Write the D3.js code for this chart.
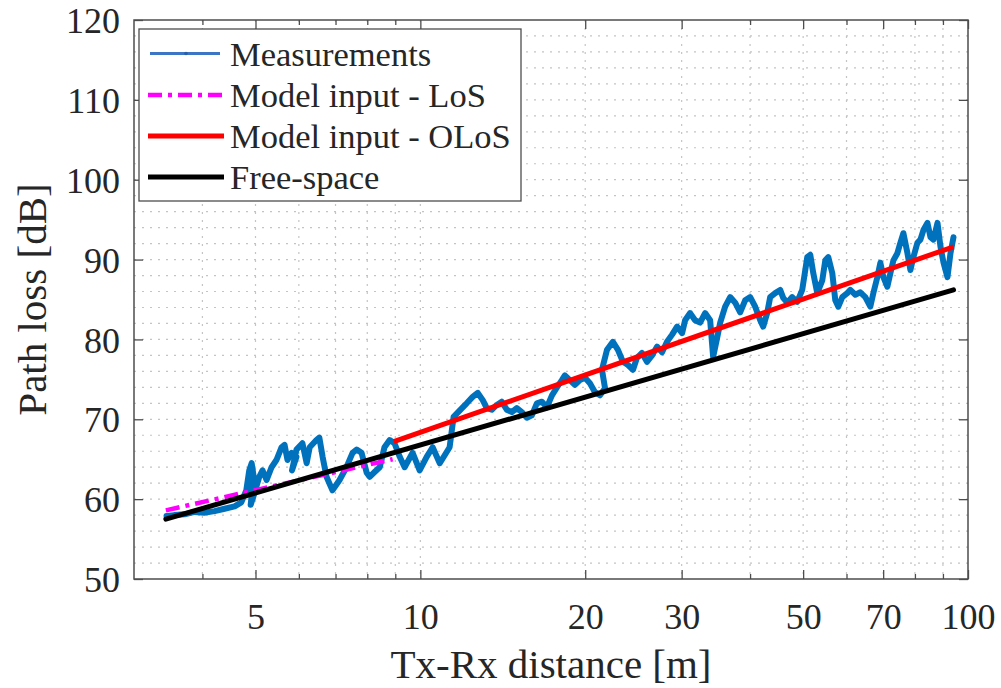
<!DOCTYPE html>
<html><head><meta charset="utf-8">
<script src="https://cdn.jsdelivr.net/npm/d3@7"></script>
<style>
html,body{margin:0;padding:0;background:#fff;}
text{font-family:"Liberation Serif","Times New Roman",serif;fill:#262626;}
</style></head>
<body>
<svg id="chart" width="1001" height="688"></svg>
<script>
// ---- data ----
const measDist = [3.44,3.55,3.71,3.87,4.03,4.21,4.39,4.58,4.71,4.81,4.87,4.92,4.96,4.90,4.98,5.08,5.15,5.24,5.35,5.46,5.58,5.65,5.72,5.82,5.94,5.83,5.94,6.09,6.20,6.28,6.46,6.54,6.63,6.74,6.91,7.12,7.33,7.52,7.65,7.81,7.98,8.08,8.25,8.43,8.60,8.79,8.97,9.17,9.36,9.68,9.97,10.27,10.53,10.85,11.31,11.50,11.95,12.15,12.46,12.73,13.00,13.22,13.50,13.79,14.08,14.38,14.69,15.00,15.32,15.65,15.98,16.32,16.67,17.02,17.39,17.76,18.13,18.36,18.75,19.15,19.56,19.98,20.40,20.84,21.28,21.74,21.46,21.92,22.47,22.95,23.44,23.94,24.45,24.86,25.39,25.93,26.49,27.05,27.63,28.21,28.82,29.43,30.06,30.44,31.09,31.74,32.42,33.11,33.82,34.25,34.83,35.28,36.02,36.79,37.57,38.37,39.18,40.02,40.87,41.74,42.27,42.98,43.53,44.46,45.40,45.98,46.76,47.75,48.77,49.81,50.87,51.52,52.18,53.06,54.19,54.88,55.58,56.52,57.24,57.97,58.95,60.20,60.97,62.27,63.59,64.94,66.32,67.17,68.31,69.18,70.06,71.25,72.16,73.08,74.32,75.25,76.21,77.52,78.49,79.49,80.84,81.87,82.91,84.32,85.40,86.48,87.96,89.08,90.22,91.73,92.90,94.08];
const measPL = [57.9,58.0,58.1,58.4,58.3,58.5,58.8,59.1,59.6,61.1,63.6,64.5,62.9,59.3,60.8,62.8,63.6,62.4,64.0,64.9,66.5,66.8,64.9,65.8,65.3,63.6,66.2,67.0,64.5,66.5,67.4,67.7,65.3,62.8,61.1,62.4,64.0,65.8,66.2,65.8,63.3,62.8,63.4,64.0,66.5,67.4,67.0,65.3,64.0,65.8,63.6,65.3,66.5,64.5,66.5,70.3,71.5,72.0,72.8,73.3,72.4,71.4,71.2,71.8,72.2,71.2,70.9,71.4,70.9,70.2,70.5,72.0,72.2,71.5,73.0,74.0,74.9,75.5,74.9,74.3,74.9,75.2,74.5,73.4,73.0,73.9,76.2,78.7,79.7,78.7,77.2,76.8,76.2,77.7,78.3,77.2,78.0,79.1,78.4,79.7,80.6,81.6,80.8,82.4,83.3,82.4,82.1,83.3,82.4,77.8,80.2,82.1,84.1,85.3,84.6,83.4,84.9,85.3,84.1,82.4,81.6,83.3,85.3,85.8,86.2,85.2,84.6,85.3,84.7,86.2,90.3,90.6,88.3,85.8,87.4,89.9,90.3,88.3,84.9,84.1,85.3,85.8,86.2,85.6,85.9,85.3,84.1,85.8,87.8,89.6,87.8,86.6,88.3,89.9,90.8,92.1,93.3,90.8,88.7,90.3,92.1,92.5,93.7,94.6,92.8,92.5,94.6,91.6,89.6,87.8,90.8,92.8];
const losDist = [3.43, 8.9];
const losPL = [58.6, 65.0];
const olosDist = [8.94, 94.1];
const olosPL = [67.2, 91.6];
const freeDist = [3.43, 94.1];
const freePL = [57.5, 86.2];
const xTickValues = [5, 10, 20, 30, 50, 70, 100];
const xMinorValues = [4, 6, 7, 8, 9, 40, 60, 80, 90];
const yTickValues = [50, 60, 70, 80, 90, 100, 110, 120];
const legendLabels = ["Measurements", "Model input - LoS", "Model input - OLoS", "Free-space"];
const xLabel = "Tx-Rx distance [m]";
const yLabel = "Path loss [dB]";

// ---- layout ----
const L = 134, R = 968, T = 20, B = 579;
const svg = d3.select("#chart");
const x = d3.scaleLog().domain([3, 100]).range([L, R]);
const y = d3.scaleLinear().domain([50, 120]).range([B, T]);

svg.append("defs").append("clipPath").attr("id", "clip")
  .append("rect").attr("x", L).attr("y", T).attr("width", R - L).attr("height", B - T);

// grid
const grid = svg.append("g");
const gridX = xMinorValues.concat(xTickValues.filter(v => v < 100));
grid.selectAll(".gx").data(gridX).enter().append("line")
  .attr("x1", d => x(d)).attr("x2", d => x(d)).attr("y1", T).attr("y2", B)
  .attr("stroke", "#c4c4c4").attr("stroke-width", 1.2).attr("stroke-dasharray", "2,6");
grid.selectAll(".gy").data(d3.range(52, 120, 2)).enter().append("line")
  .attr("x1", L).attr("x2", R).attr("y1", d => y(d)).attr("y2", d => y(d))
  .attr("stroke", "#c4c4c4").attr("stroke-width", 1.2).attr("stroke-dasharray", "2,6");

// lines
const plot = svg.append("g").attr("clip-path", "url(#clip)");
const line = d3.line().x(d => x(d[0])).y(d => y(d[1]));
const zip = (a, b) => a.map((v, i) => [v, b[i]]);
plot.append("path").datum(zip(measDist, measPL)).attr("d", line)
  .attr("fill", "none").attr("stroke", "#0072BD").attr("stroke-width", 6)
  .attr("stroke-linejoin", "round").attr("stroke-linecap", "round");
plot.append("path").datum(zip(losDist, losPL)).attr("d", line)
  .attr("fill", "none").attr("stroke", "#FF00FF").attr("stroke-width", 4.5)
  .attr("stroke-dasharray", "14,6,4,6");
plot.append("path").datum(zip(olosDist, olosPL)).attr("d", line)
  .attr("fill", "none").attr("stroke", "#FF0000").attr("stroke-width", 5);
plot.append("path").datum(zip(freeDist, freePL)).attr("d", line)
  .attr("fill", "none").attr("stroke", "#000000").attr("stroke-width", 5)
  .attr("stroke-linecap", "round");

// axes
const axColor = "#4d4d4d";
function styleAxis(g) {
  g.select(".domain").remove();
  g.selectAll(".tick line").attr("stroke", axColor).attr("stroke-width", 1.3);
}
const fmt = d => String(d);
svg.append("g").attr("transform", `translate(0,${B})`)
  .call(d3.axisBottom(x).tickValues(xTickValues).tickFormat(fmt).tickSize(-9))
  .call(styleAxis)
  .call(g => g.selectAll("text").attr("y", 50).attr("dy", null)
    .style("font-size", "36px").style("font-family", "Liberation Serif").attr("fill", "#262626"));
svg.append("g").attr("transform", `translate(0,${B})`)
  .call(d3.axisBottom(x).tickValues(xMinorValues).tickFormat("").tickSize(-5)).call(styleAxis);
svg.append("g").attr("transform", `translate(0,${T})`)
  .call(d3.axisTop(x).tickValues(xTickValues).tickFormat("").tickSize(-9)).call(styleAxis);
svg.append("g").attr("transform", `translate(0,${T})`)
  .call(d3.axisTop(x).tickValues(xMinorValues).tickFormat("").tickSize(-5)).call(styleAxis);
svg.append("g").attr("transform", `translate(${L},0)`)
  .call(d3.axisLeft(y).tickValues(yTickValues).tickFormat(fmt).tickSize(-9).tickPadding(14))
  .call(styleAxis)
  .call(g => g.selectAll("text").attr("x", -14).attr("dy", "0.35em")
    .style("font-size", "36px").style("font-family", "Liberation Serif").attr("fill", "#262626"));
svg.append("g").attr("transform", `translate(${R},0)`)
  .call(d3.axisRight(y).tickValues(yTickValues).tickFormat("").tickSize(-9)).call(styleAxis);

// frame
svg.append("rect").attr("x", L).attr("y", T).attr("width", R - L).attr("height", B - T)
  .attr("fill", "none").attr("stroke", axColor).attr("stroke-width", 1.5);

// axis labels
svg.append("text").attr("x", (L + R) / 2).attr("y", 678).attr("text-anchor", "middle")
  .style("font-size", "41px").text(xLabel);
svg.append("text").attr("transform", `translate(46,${(T + B) / 2}) rotate(-90)`)
  .attr("text-anchor", "middle").style("font-size", "41px").text(yLabel);

// legend
const lg = svg.append("g");
lg.append("rect").attr("x", 139).attr("y", 29).attr("width", 382).attr("height", 172)
  .attr("fill", "#fff").attr("stroke", axColor).attr("stroke-width", 1.3);
const legStyles = [
  {color: "#3b75c4", w: 3, dash: null, x1: 150, x2: 220},
  {color: "#FF00FF", w: 4.5, dash: "14,6,4,6", x1: 148, x2: 224},
  {color: "#FF0000", w: 5, dash: null, x1: 148, x2: 224},
  {color: "#000000", w: 5, dash: null, x1: 148, x2: 224}
];
const rowY = [53.5, 95, 136, 177];
legendLabels.forEach((lab, i) => {
  const s = legStyles[i];
  const ln = lg.append("line").attr("x1", s.x1).attr("x2", s.x2).attr("y1", rowY[i]).attr("y2", rowY[i])
    .attr("stroke", s.color).attr("stroke-width", s.w);
  if (s.dash) ln.attr("stroke-dasharray", s.dash);
  if (i === 0) lg.append("circle").attr("cx", 186).attr("cy", rowY[i]).attr("r", 1.8).attr("fill", "#2a5fa8");
  lg.append("text").attr("x", 230).attr("y", rowY[i] + 12).style("font-size", "34.5px").text(lab);
});
</script>
</body></html>
